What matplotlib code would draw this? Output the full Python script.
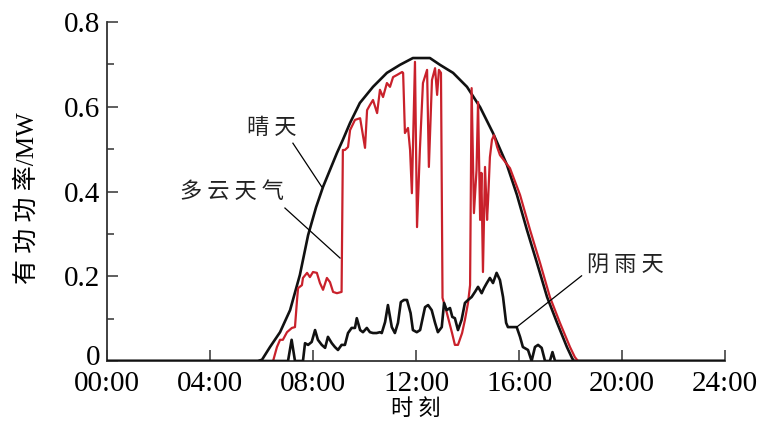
import numpy as np
import matplotlib
matplotlib.use("Agg")
import matplotlib.pyplot as plt
import matplotlib.transforms as mtransforms

plt.rcParams['font.family'] = ['Liberation Serif', 'Noto Sans CJK SC']

# clear day (晴天): hour, MW
clear_h = [0.0, 5.86, 6.02, 6.33, 6.72, 7.11, 7.49, 7.81, 8.12, 8.39, 8.66, 8.93,
           9.16, 9.44, 9.82, 10.33, 10.87, 11.38, 11.88, 12.54, 12.93, 13.44,
           13.98, 14.49, 14.99, 15.53, 15.92, 16.31, 16.70, 17.09, 17.48, 17.86,
           18.06, 18.13, 24.0]
clear_p = [0.0, 0.0, 0.003, 0.033, 0.068, 0.120, 0.203, 0.297, 0.363, 0.411, 0.451,
           0.491, 0.522, 0.562, 0.609, 0.647, 0.680, 0.699, 0.715, 0.715, 0.699,
           0.680, 0.647, 0.599, 0.538, 0.463, 0.392, 0.309, 0.231, 0.151, 0.090,
           0.033, 0.007, 0.0, 0.0]

# cloudy day (多云天气)
cloudy_h = [6.45, 6.60, 6.72, 6.83, 6.99, 7.18, 7.30, 7.38, 7.42, 7.57, 7.61, 7.77,
            7.88, 8.00, 8.15, 8.27, 8.39, 8.54, 8.66, 8.78, 8.93, 9.11, 9.16, 9.24,
            9.36, 9.44, 9.63, 9.83, 10.02, 10.10, 10.21, 10.33, 10.49, 10.60, 10.72,
            10.87, 10.99, 11.11, 11.26, 11.46, 11.50, 11.57, 11.69, 11.77, 11.84,
            11.90, 11.96, 12.04, 12.15, 12.27, 12.43, 12.50, 12.62, 12.74, 12.82,
            12.89, 12.97, 13.03, 13.20, 13.40, 13.51, 13.63, 13.79, 13.90, 14.02,
            14.10, 14.16, 14.25, 14.35, 14.41, 14.49, 14.54, 14.60, 14.68, 14.76,
            14.80, 14.87, 14.95, 15.03, 15.15, 15.26, 15.65, 16.04, 16.43, 16.82,
            17.20, 17.59, 17.98, 18.17, 18.29]
cloudy_p = [0.0, 0.033, 0.050, 0.050, 0.068, 0.078, 0.080, 0.144, 0.172, 0.179,
            0.196, 0.208, 0.198, 0.210, 0.208, 0.184, 0.168, 0.196, 0.186, 0.163,
            0.160, 0.163, 0.498, 0.498, 0.505, 0.545, 0.569, 0.573, 0.503, 0.592,
            0.604, 0.616, 0.585, 0.640, 0.623, 0.656, 0.647, 0.670, 0.675, 0.682,
            0.680, 0.538, 0.550, 0.498, 0.396, 0.552, 0.706, 0.316, 0.498, 0.656,
            0.687, 0.458, 0.663, 0.691, 0.628, 0.687, 0.680, 0.149, 0.113, 0.066,
            0.038, 0.038, 0.066, 0.097, 0.137, 0.179, 0.644, 0.349, 0.450, 0.611,
            0.333, 0.444, 0.210, 0.458, 0.333, 0.380, 0.481, 0.522, 0.533, 0.505,
            0.486, 0.455, 0.392, 0.309, 0.231, 0.151, 0.090, 0.033, 0.009, 0.0]

# rainy day (阴雨天)
rainy_h = [0.0, 6.72, 7.03, 7.17, 7.30, 7.61, 7.69, 7.81, 7.95, 8.08, 8.19, 8.34,
           8.47, 8.58, 8.73, 8.85, 8.97, 9.11, 9.24, 9.36, 9.50, 9.63, 9.70, 9.83,
           9.94, 10.09, 10.21, 10.33, 10.47, 10.60, 10.67, 10.80, 10.91, 11.06,
           11.18, 11.30, 11.41, 11.53, 11.65, 11.79, 11.88, 12.03, 12.16, 12.35,
           12.47, 12.61, 12.74, 12.85, 13.00, 13.09, 13.19, 13.32, 13.41, 13.51,
           13.63, 13.77, 13.90, 14.02, 14.16, 14.29, 14.41, 14.55, 14.64, 14.75,
           14.87, 14.99, 15.13, 15.26, 15.38, 15.50, 15.57, 15.91, 16.04, 16.15,
           16.35, 16.49, 16.62, 16.74, 16.88, 17.01, 17.20, 17.30, 17.40, 24.0]
rainy_p = [0.0, 0.0, 0.0, 0.050, 0.0, 0.0, 0.042, 0.038, 0.045, 0.073, 0.050, 0.038,
           0.031, 0.057, 0.042, 0.033, 0.026, 0.038, 0.038, 0.066, 0.078, 0.078,
           0.101, 0.073, 0.068, 0.078, 0.068, 0.066, 0.066, 0.068, 0.066, 0.092,
           0.132, 0.080, 0.066, 0.090, 0.139, 0.144, 0.144, 0.113, 0.073, 0.068,
           0.073, 0.127, 0.132, 0.120, 0.090, 0.068, 0.080, 0.137, 0.120, 0.125,
           0.104, 0.101, 0.073, 0.097, 0.137, 0.144, 0.151, 0.163, 0.175, 0.160,
           0.172, 0.184, 0.196, 0.184, 0.208, 0.191, 0.151, 0.090, 0.080, 0.080,
           0.057, 0.033, 0.026, 0.0, 0.033, 0.038, 0.031, 0.0, 0.0, 0.021, 0.0, 0.0]

x_ticks = [0, 4, 8, 12, 16, 20, 24]
x_labels = ["00:00", "04:00", "08:00", "12:00", "16:00", "20:00", "24:00"]
y_ticks = [0, 0.2, 0.4, 0.6, 0.8]
y_labels = ["0", "0.2", "0.4", "0.6", "0.8"]

# annotation: text, text pos, leader start, leader end
notes = [
    ("晴 天", (6.39, 0.551), (7.22, 0.514), (8.34, 0.411)),
    ("多 云 天 气", (4.85, 0.401), (6.91, 0.361), (9.05, 0.243)),
    ("阴 雨 天", (20.15, 0.227), (18.43, 0.201), (15.91, 0.080)),
]

red = "#c9212b"

fig = plt.figure(figsize=(7.61, 4.25), dpi=100)
ax = fig.add_axes([0.1406, 0.1506, 0.8121, 0.7976])

ax.plot(clear_h, clear_p, color="#111111", lw=1.9, zorder=3)
ax.plot(cloudy_h, cloudy_p, color=red, lw=1.6, zorder=4)
ax.plot(rainy_h, rainy_p, color="#111111", lw=1.9, zorder=5)

for txt, tpos, p0, p1 in notes:
    ax.plot([p0[0], p1[0]], [p0[1], p1[1]], color="black", lw=0.9, zorder=6)
    ax.text(tpos[0], tpos[1], txt, fontsize=16, ha="center", va="center",
            family=['Noto Sans CJK SC'], color="#222222")

ax.set_xlim(0, 24)
ax.set_ylim(0, 0.8)
ax.set_xticks(x_ticks)
ax.set_xticklabels(x_labels)
ax.set_yticks(y_ticks)
ax.set_yticklabels(y_labels)
ax.set_yticks(np.arange(0.1, 0.8, 0.2), minor=True)
ax.tick_params(axis="both", which="major", direction="in", length=8, width=1.1,
               labelsize=21, color="#333333")
ax.tick_params(axis="x", pad=7)
ax.tick_params(axis="y", pad=5)
ax.tick_params(axis="y", which="minor", direction="in", length=5, width=1.1,
               color="#333333")

# the "0" sits a little above the axis line, clear of "00:00"
zero_lbl = ax.get_yticklabels()[0]
zero_lbl.set_transform(zero_lbl.get_transform() +
                       mtransforms.ScaledTranslation(0, 4 / 72, fig.dpi_scale_trans))

for s in ["top", "right"]:
    ax.spines[s].set_visible(False)
for s in ["left", "bottom"]:
    ax.spines[s].set_linewidth(1.3)
    ax.spines[s].set_color("#333333")

ax.set_xlabel("时 刻", fontsize=16, labelpad=0, family=['Noto Sans CJK SC'])
ax.set_ylabel("有 功 功 率/MW", fontsize=18)
ax.yaxis.set_label_coords(-0.11, 0.48)

fig.savefig("out.png", dpi=100)
